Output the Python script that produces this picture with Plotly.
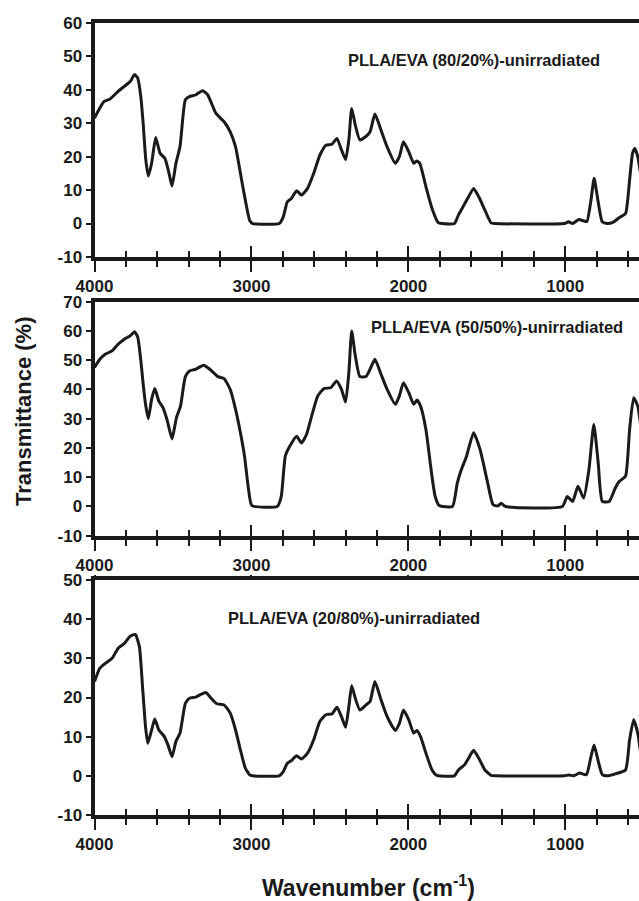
import plotly.graph_objects as go

# ---- FTIR spectra of PLLA/EVA blends (unirradiated) ----
wn_80_20 = [4000, 3966, 3940, 3901, 3849, 3810, 3771, 3745, 3725, 3705, 3690, 3673, 3657, 3636,
            3610, 3582, 3551, 3525, 3506, 3481, 3455, 3421, 3395, 3356, 3312, 3278, 3226, 3174,
            3135, 3101, 3070, 3039, 3010, 2992, 2823, 2797, 2771, 2745, 2712, 2681, 2642, 2603,
            2564, 2525, 2486, 2455, 2426, 2400, 2379, 2361, 2338, 2309, 2270, 2244, 2213, 2174,
            2135, 2083, 2057, 2031, 1997, 1966, 1948, 1927, 1888, 1849, 1810, 1784, 1706, 1681,
            1642, 1616, 1584, 1551, 1512, 1473, 1450, 1005, 979, 953, 914, 883, 862, 836, 816,
            792, 764, 733, 694, 655, 616, 590, 571, 556, 538, 520]
t_80_20 = [31.5, 34.5, 36.4, 37.2, 39.5, 41.0, 42.5, 44.5, 43.5, 38.0, 30.0, 19.0, 14.2, 18.0,
           25.7, 21.0, 19.4, 15.0, 11.2, 18.0, 23.0, 37.0, 37.9, 38.4, 39.7, 38.4, 32.9, 30.4,
           27.4, 22.9, 15.0, 7.0, 0.8, 0.0, 0.0, 2.0, 6.5, 7.5, 9.8, 8.5, 10.5, 15.0,
           20.4, 23.4, 23.7, 25.4, 22.0, 19.1, 25.0, 34.4, 29.4, 25.0, 26.0, 27.4, 32.7, 27.9,
           22.9, 18.0, 20.0, 24.4, 21.4, 18.0, 18.7, 18.0, 11.0, 4.5, 0.3, 0.0, 0.0, 2.5,
           5.8, 8.0, 10.5, 8.0, 4.0, 0.2, 0.0, 0.0, 0.5, 0.0, 1.2, 0.8, 0.6, 7.0, 13.5,
           7.0, 0.5, 0.0, 0.4, 1.8, 3.0, 13.0, 21.0, 22.4, 20.0, 15.0]

wn_50_50 = [4000, 3966, 3932, 3888, 3849, 3810, 3771, 3745, 3725, 3705, 3690, 3675, 3657, 3636,
            3616, 3590, 3564, 3538, 3506, 3478, 3452, 3421, 3395, 3356, 3304, 3265, 3213, 3174,
            3135, 3101, 3070, 3044, 3018, 2997, 2836, 2810, 2784, 2753, 2712, 2681, 2649, 2616,
            2577, 2538, 2494, 2457, 2426, 2400, 2379, 2361, 2338, 2309, 2270, 2244, 2213, 2174,
            2135, 2083, 2057, 2031, 1997, 1966, 1945, 1922, 1888, 1855, 1829, 1803, 1719, 1688,
            1662, 1629, 1584, 1543, 1499, 1460, 1429, 1408, 1382, 1018, 987, 953, 919, 883, 849,
            818, 790, 764, 720, 681, 655, 616, 590, 564, 538, 520]
t_50_50 = [47.5, 50.3, 52.0, 53.2, 55.5, 57.2, 58.4, 59.7, 58.0, 50.0, 42.0, 35.0, 30.0, 36.6,
           40.3, 36.0, 33.8, 29.7, 23.1, 30.3, 34.3, 44.4, 46.3, 46.9, 48.3, 46.9, 44.4, 43.7,
           40.0, 33.2, 25.2, 17.2, 5.7, 0.3, 0.0, 3.4, 17.2, 20.8, 24.0, 21.7, 24.6, 30.9,
           37.8, 40.3, 40.6, 42.9, 40.0, 35.7, 45.8, 60.0, 51.5, 44.4, 44.4, 46.9, 50.3, 45.2,
           40.0, 34.9, 37.8, 42.3, 38.9, 34.9, 36.4, 34.3, 26.3, 12.6, 3.4, 0.3, 0.0, 8.0,
           12.6, 17.2, 25.2, 19.5, 9.2, 0.6, 0.2, 1.1, 0.0, 0.0, 3.4, 1.7, 6.9, 2.9, 12.6,
           28.0, 14.9, 1.7, 1.7, 6.3, 8.6, 10.3, 26.3, 37.2, 34.3, 28.0]

wn_20_80 = [4000, 3966, 3932, 3888, 3849, 3810, 3771, 3740, 3714, 3694, 3675, 3660, 3636, 3616,
            3590, 3558, 3532, 3506, 3481, 3455, 3421, 3395, 3356, 3291, 3257, 3221, 3174, 3135,
            3101, 3070, 3039, 3010, 2992, 2823, 2797, 2771, 2745, 2712, 2681, 2642, 2603, 2564,
            2525, 2486, 2455, 2426, 2400, 2379, 2361, 2338, 2309, 2270, 2244, 2213, 2174, 2135,
            2083, 2057, 2031, 1997, 1966, 1945, 1922, 1888, 1849, 1818, 1706, 1681, 1642, 1616,
            1584, 1551, 1512, 1473, 1450, 1005, 979, 945, 909, 865, 836, 816, 792, 764, 733,
            681, 616, 590, 564, 538, 520]
t_20_80 = [24.1, 27.5, 28.7, 30.0, 32.6, 33.8, 35.7, 36.1, 33.0, 22.8, 12.6, 8.3, 11.7, 14.5,
           11.7, 10.2, 7.9, 4.9, 8.8, 10.9, 18.5, 19.8, 20.1, 21.3, 19.8, 18.4, 18.1, 16.0,
           11.7, 6.6, 2.0, 0.2, 0.0, 0.0, 1.1, 3.2, 3.9, 5.1, 4.3, 5.8, 9.2, 13.9,
           15.6, 15.8, 17.5, 15.1, 12.4, 17.7, 23.0, 19.8, 16.8, 18.1, 19.0, 24.1, 19.4, 15.1,
           11.6, 13.4, 16.8, 14.3, 10.9, 11.6, 10.0, 5.8, 1.5, 0.1, 0.0, 1.5, 2.8, 4.5,
           6.5, 4.5, 1.5, 0.1, 0.0, 0.0, 0.2, 0.0, 0.7, 0.3, 4.9, 7.9, 4.1, 0.3, 0.0,
           0.5, 1.5, 9.2, 14.3, 10.9, 6.0]

panel_labels = ["PLLA/EVA (80/20%)-unirradiated",
                "PLLA/EVA (50/50%)-unirradiated",
                "PLLA/EVA (20/80%)-unirradiated"]
y_ranges = [[-10, 60], [-10, 70], [-10, 50]]
x_major = [4000, 3000, 2000, 1000]
x_range = [4000, 530]

spectra = [(wn_80_20, t_80_20), (wn_50_50, t_50_50), (wn_20_80, t_20_80)]

W, H = 639, 901
FONT = "Liberation Sans, Arial, sans-serif"
INK = "#1a1a1a"

# panel boxes in pixels (top, bottom) of the plotting area
panel_px = [(22.7, 257.0), (301.7, 535.7), (580.0, 815.0)]
x_left_px = 94.5
x_dom = [x_left_px / W, 1.0]
label_pos = [(346, 60), (369, 327), (226, 618)]

fig = go.Figure()

for i, ((wn, t), (top, bot)) in enumerate(zip(spectra, panel_px)):
    n = i + 1
    xa = "x" if n == 1 else f"x{n}"
    ya = "y" if n == 1 else f"y{n}"
    fig.add_trace(go.Scatter(
        x=wn, y=t, xaxis=xa, yaxis=ya, mode="lines",
        line=dict(color=INK, width=3, shape="spline", smoothing=0.5),
        showlegend=False, hoverinfo="skip"))
    # companion axis carrying the inward half of the crossing ticks
    fig.add_trace(go.Scatter(x=[], y=[], xaxis=f"x{n + 3}", yaxis=ya,
                             showlegend=False, hoverinfo="skip"))

    y_ticks = list(range(y_ranges[i][0], y_ranges[i][1] + 1, 10))
    dom_y = [1 - bot / H, 1 - top / H]
    fig.layout[f"xaxis{'' if n == 1 else n}"] = dict(
        domain=x_dom, anchor=ya, range=x_range, automargin=False,
        tickmode="array", tickvals=x_major, ticktext=[str(v) for v in x_major],
        ticks="outside", ticklen=11, tickwidth=1.5, tickcolor=INK,
        minor=dict(tickmode="linear", tick0=0, dtick=200, ticks="outside",
                   ticklen=6, tickwidth=1.5, tickcolor=INK, showgrid=False),
        showline=True, linewidth=4, linecolor=INK, mirror=True,
        showgrid=False, zeroline=False,
        tickfont=dict(family=FONT, size=17, color=INK, weight="bold"))
    fig.layout[f"xaxis{n + 3}"] = dict(
        domain=x_dom, anchor=ya, overlaying=xa, range=x_range, automargin=False,
        tickmode="array", tickvals=x_major,
        ticks="inside", ticklen=11, tickwidth=1.5, tickcolor=INK,
        minor=dict(tickmode="linear", tick0=0, dtick=200, ticks="inside",
                   ticklen=6, tickwidth=1.5, tickcolor=INK, showgrid=False),
        showticklabels=False, showline=False, showgrid=False, zeroline=False)
    fig.layout[f"yaxis{'' if n == 1 else n}"] = dict(
        domain=dom_y, anchor=xa, range=y_ranges[i], automargin=False,
        tickmode="array", tickvals=y_ticks, ticktext=[str(v) for v in y_ticks],
        ticks="outside", ticklen=5, tickwidth=1.5, tickcolor=INK,
        showline=True, linewidth=4, linecolor=INK,
        showgrid=False, zeroline=False,
        tickfont=dict(family=FONT, size=17, color=INK, weight="bold"))

    lx, ly = label_pos[i]
    fig.add_annotation(text=panel_labels[i], xref="paper", yref="paper",
                       x=lx / W, y=1 - ly / H, xanchor="left", yanchor="middle",
                       showarrow=False,
                       font=dict(family=FONT, size=16.5, color=INK, weight="bold"))

# short major ticks on the upper edge of the last panel
fig.add_trace(go.Scatter(x=[], y=[], xaxis="x7", yaxis="y3",
                         showlegend=False, hoverinfo="skip"))
fig.layout["xaxis7"] = dict(
    domain=x_dom, anchor="y3", overlaying="x3", side="top", range=x_range,
    automargin=False,
    tickmode="array", tickvals=x_major, ticks="outside", ticklen=4,
    tickwidth=1.5, tickcolor=INK, showticklabels=False,
    showline=False, showgrid=False, zeroline=False)

fig.add_annotation(text="Transmittance (%)", xref="paper", yref="paper",
                   x=24 / W, y=1 - 411 / H, xanchor="center", yanchor="middle",
                   textangle=-90, showarrow=False,
                   font=dict(family=FONT, size=22, color=INK, weight="bold"))
fig.add_annotation(text="Wavenumber (cm<sup>-1</sup>)", xref="paper", yref="paper",
                   x=368 / W, y=1 - 886 / H, xanchor="center", yanchor="middle",
                   showarrow=False,
                   font=dict(family=FONT, size=23, color=INK, weight="bold"))

fig.update_layout(width=W, height=H, margin=dict(l=0, r=0, t=0, b=0),
                  paper_bgcolor="white", plot_bgcolor="white")

fig.write_html("out.html")
